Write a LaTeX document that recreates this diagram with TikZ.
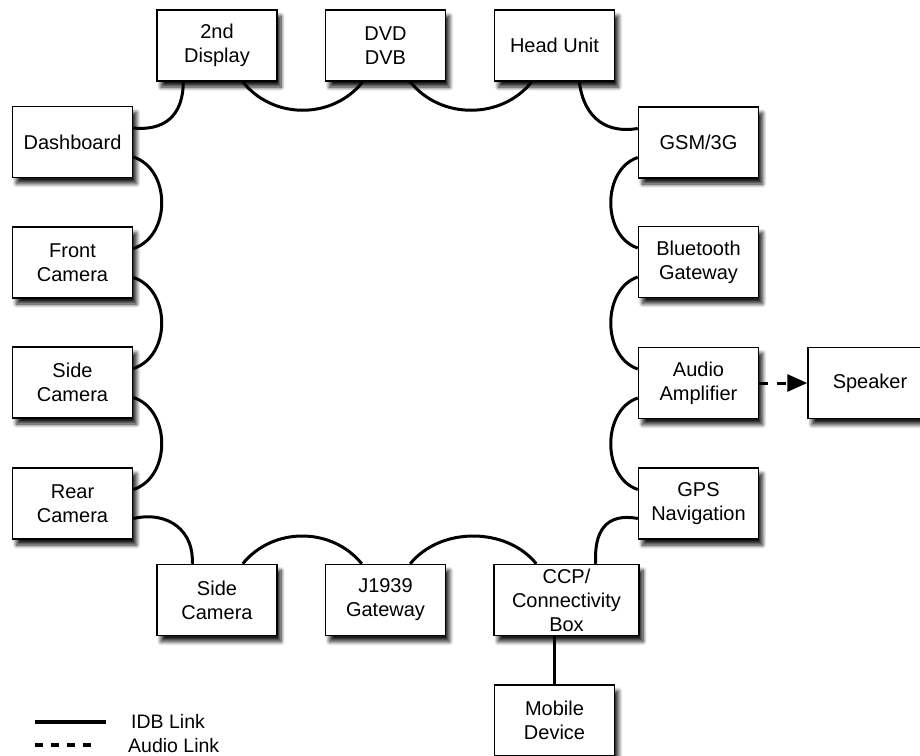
\documentclass[tikz,border=0pt]{standalone}
\usepackage{fontspec}
\setmainfont{Liberation Sans}
\usetikzlibrary{arrows.meta,shadows.blur,calc}
\begin{document}
\begin{tikzpicture}[x=1pt,y=-1pt,
  unit/.style={draw=black,line width=1.5pt,fill=white,
    minimum width=120pt,minimum height=71pt,inner sep=1pt,
    align=center,font=\fontsize{20}{24}\selectfont,
    blur shadow={shadow xshift=4pt,shadow yshift=-6pt,
      shadow blur radius=4pt,shadow blur steps=8,shadow opacity=90}},
  idb/.style={line width=3pt},
  audiolink/.style={line width=3pt,dash pattern=on 9pt off 9pt},
  legendtext/.style={anchor=base west,inner sep=0pt,font=\fontsize{19.5}{23}\selectfont},
]
\useasboundingbox (0,0) rectangle (920,755);

% top row
\node[unit] (disp) at (217,45.5)   {2nd\\Display};
\node[unit] (dvd)  at (385.5,45.5) {DVD\\DVB};
\node[unit] (head) at (554.5,45.5) {Head Unit};

% left column
\node[unit] (dash)  at (72.5,142)   {Dashboard};
\node[unit] (front) at (72.5,262.5) {Front\\Camera};
\node[unit] (sidel) at (72.5,382.5) {Side\\Camera};
\node[unit] (rear)  at (72.5,503.5) {Rear\\Camera};

% right column
\node[unit] (gsm) at (698.5,142.5) {GSM/3G};
\node[unit] (bt)  at (698.5,262)   {Bluetooth\\Gateway};
\node[unit] (amp) at (698.5,383)   {Audio\\Amplifier};
\node[unit] (gps) at (698.5,503.5) {GPS\\Navigation};
\node[unit,minimum width=124pt] (spk) at (870,383) {Speaker};

% bottom row
\node[unit] (sideb) at (217,600)   {Side\\Camera};
\node[unit] (j1939) at (385.5,600) {J1939\\Gateway};
\node[unit,minimum width=145pt] (ccp) at (566.5,600) {CCP/\\Connectivity\\Box};
\node[unit] (mob) at (554.5,720.5) {Mobile\\Device};

% IDB ring
\draw[idb] ($(dash.east)+(0,-14)$) .. controls +(30,3) and +(0,35) .. ($(disp.south west)+(27,0)$);
\draw[idb] ($(disp.south east)+(-35,0)$) .. controls +(30,38) and +(-30,38) .. ($(dvd.south west)+(38,0)$);
\draw[idb] ($(dvd.south east)+(-36,0)$) .. controls +(30,38) and +(-30,38) .. ($(head.south west)+(38,0)$);
\draw[idb] ($(head.south east)+(-36,0)$) .. controls +(5,38) and +(-30,5) .. ($(gsm.west)+(0,-14)$);

\draw[idb] ($(gsm.west)+(0,15)$) .. controls +(-36,12) and +(-36,-12) .. ($(bt.west)+(0,-14)$);
\draw[idb] ($(bt.west)+(0,15)$) .. controls +(-36,12) and +(-36,-12) .. ($(amp.west)+(0,-14)$);
\draw[idb] ($(amp.west)+(0,15)$) .. controls +(-36,12) and +(-36,-12) .. ($(gps.west)+(0,-14)$);
\draw[idb] ($(gps.west)+(0,15)$) .. controls +(-32,-6) and +(-2,-32) .. ($(ccp.north east)+(-44,0)$);

\draw[idb] ($(dash.east)+(0,15)$) .. controls +(38,12) and +(38,-12) .. ($(front.east)+(0,-14)$);
\draw[idb] ($(front.east)+(0,15)$) .. controls +(38,12) and +(38,-12) .. ($(sidel.east)+(0,-14)$);
\draw[idb] ($(sidel.east)+(0,15)$) .. controls +(38,12) and +(38,-12) .. ($(rear.east)+(0,-14)$);
\draw[idb] ($(rear.east)+(0,15)$) .. controls +(36,-8) and +(2,-32) .. ($(sideb.north west)+(36,0)$);

\draw[idb] ($(sideb.north east)+(-35,0)$) .. controls +(30,-37) and +(-30,-37) .. ($(j1939.north west)+(37,0)$);
\draw[idb] ($(j1939.north east)+(-36,0)$) .. controls +(30,-37) and +(-30,-37) .. ($(ccp.north west)+(43,0)$);

\draw[idb] (mob.north) -- (mob.north |- ccp.south);

% audio link
\draw[audiolink,-{Triangle[length=20pt,width=17pt]}] (amp.east) -- (spk.west);

% legend
\coordinate (la) at (35,722);
\coordinate (lb) at (106,722);
\coordinate (lc) at (35,745);
\coordinate (ld) at (95,745);
\draw[line width=4pt] (la) -- (lb);
\draw[line width=4pt,dash pattern=on 8pt off 8pt] (lc) -- (ld);
\node[legendtext] (lidb) at (131,728) {IDB Link};
\node[legendtext] (laud) at (128,752) {Audio Link};
\end{tikzpicture}
\end{document}
